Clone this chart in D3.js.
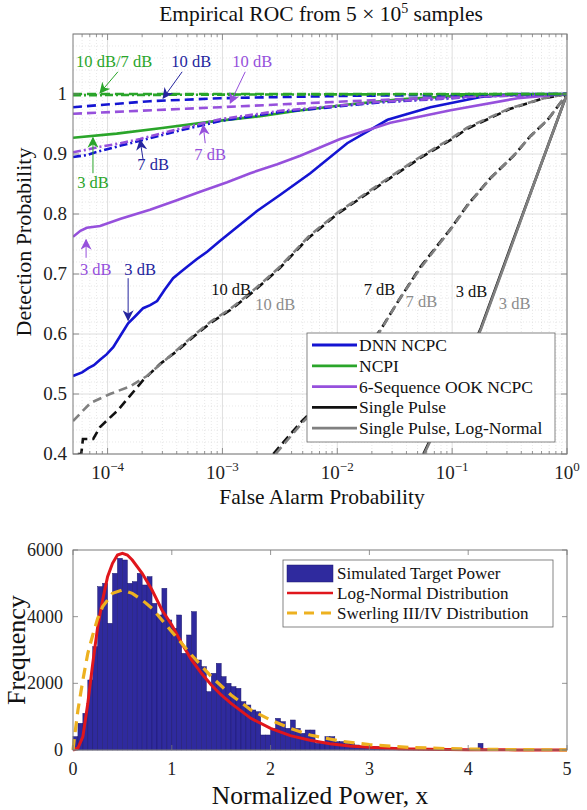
<!DOCTYPE html>
<html>
<head>
<meta charset="utf-8">
<script src="https://cdn.jsdelivr.net/npm/d3@7"></script>
<style>
body { margin: 0; background: #fff; }
svg, svg text { font-family: "Liberation Serif", "Times New Roman", serif; }
</style>
</head>
<body>
<div id="app"></div>
<script>
// ---------- ROC data: [false alarm probability, detection probability] ----------
const dnn3 = [[5e-5,0.530],[6e-5,0.536],[6.8e-5,0.543],[7.6e-5,0.548],[8.6e-5,0.557],[9.8e-5,0.566],[1.12e-4,0.578],[1.3e-4,0.598],[1.51e-4,0.618],[1.75e-4,0.630],[2.04e-4,0.643],[2.35e-4,0.648],[2.7e-4,0.655],[3.15e-4,0.674],[3.72e-4,0.693],[4.3e-4,0.703],[4.93e-4,0.712],[6e-4,0.725],[7.36e-4,0.737],[9.5e-4,0.755],[1.24e-3,0.773],[2e-3,0.805],[3.19e-3,0.832],[5.82e-3,0.868],[1.22e-2,0.918],[2.74e-2,0.957],[6.47e-2,0.978],[0.177,0.995],[0.343,1.0],[1,1]];
const dnn7 = [[5e-5,0.895],[6.5e-5,0.898],[8.6e-5,0.905],[1.3e-4,0.914],[1.92e-4,0.922],[4e-4,0.938],[9.57e-4,0.955],[3.19e-3,0.970],[2.38e-2,0.986],[0.177,0.996],[1,1]];
const dnn10 = [[5e-5,0.978],[2.34e-4,0.988],[9.57e-4,0.993],[1.3e-2,0.997],[1,1]];
const ncpi3 = [[5e-5,0.927],[1.2e-4,0.934],[2.87e-4,0.943],[8e-4,0.954],[2.13e-3,0.963],[4.5e-3,0.972],[1.3e-2,0.983],[3.5e-2,0.991],[9.7e-2,0.996],[0.3,0.999],[1,1]];
const ncpi7 = [[5e-5,0.998],[1e-3,0.999],[1,1]];
const ncpi10 = [[5e-5,1.0],[1,1]];
const ook3 = [[5e-5,0.762],[5.8e-5,0.772],[6.6e-5,0.777],[8.6e-5,0.780],[1.3e-4,0.792],[2.34e-4,0.807],[3.9e-4,0.822],[6.4e-4,0.837],[1.1e-3,0.853],[1.75e-3,0.868],[3e-3,0.883],[4.76e-3,0.897],[1.06e-2,0.925],[2.9e-2,0.952],[9.7e-2,0.973],[0.372,0.993],[1,1]];
const ook7 = [[5e-5,0.903],[6.5e-5,0.907],[8.6e-5,0.912],[1.3e-4,0.918],[1.92e-4,0.925],[4e-4,0.941],[9.57e-4,0.958],[3.19e-3,0.972],[2.38e-2,0.987],[0.177,0.996],[1,1]];
const ook10 = [[5e-5,0.967],[9.57e-4,0.978],[1.3e-2,0.988],[9.7e-2,0.995],[1,1]];
const sp3 = [[5.62e-2,0.40],[0.1,0.50],[0.178,0.61],[0.316,0.74],[0.562,0.87],[1,1]];
const sp7 = [[2.77e-3,0.40],[4.76e-3,0.452],[7.57e-3,0.49],[1.3e-2,0.54],[2.38e-2,0.607],[3.4e-2,0.655],[5.3e-2,0.712],[9.68e-2,0.775],[0.136,0.815],[0.216,0.86],[0.343,0.897],[0.482,0.93],[0.679,0.957],[1,1]];
const sp10 = [[5.5e-5,0.40],[5.9e-5,0.40],[6.1e-5,0.425],[7.5e-5,0.425],[8.6e-5,0.445],[1.23e-4,0.473],[2.04e-4,0.523],[2.86e-4,0.55],[4.11e-4,0.573],[5.56e-4,0.595],[7.82e-4,0.618],[1.17e-3,0.64],[1.64e-3,0.662],[2.26e-3,0.685],[3.16e-3,0.71],[5.6e-3,0.76],[1e-2,0.80],[1.7e-2,0.83],[3.16e-2,0.865],[5.25e-2,0.893],[0.1,0.925],[0.135,0.942],[0.316,0.975],[0.63,0.993],[1,1]];
const spln3 = [[5.7e-2,0.40],[0.1,0.498],[0.178,0.608],[0.316,0.738],[0.562,0.87],[1,1]];
const spln7 = [[2.9e-3,0.40],[5e-3,0.453],[7.8e-3,0.49],[1.33e-2,0.54],[2.4e-2,0.607],[3.4e-2,0.655],[5.3e-2,0.71],[9.68e-2,0.774],[0.136,0.814],[0.216,0.86],[0.343,0.897],[0.482,0.93],[0.679,0.957],[1,1]];
const spln10 = [[5e-5,0.455],[7.1e-5,0.485],[1.05e-4,0.50],[1.58e-4,0.513],[2.2e-4,0.53],[2.9e-4,0.55],[4.11e-4,0.575],[5.56e-4,0.597],[7.82e-4,0.62],[1.17e-3,0.642],[1.64e-3,0.664],[2.26e-3,0.687],[3.16e-3,0.712],[5.6e-3,0.762],[1e-2,0.802],[1.7e-2,0.832],[3.16e-2,0.867],[5.25e-2,0.895],[0.1,0.927],[0.135,0.944],[0.316,0.976],[0.63,0.993],[1,1]];

const rocXTicks = [1e-4, 1e-3, 1e-2, 1e-1, 1];
const rocXExp = ["\u22124", "\u22123", "\u22122", "\u22121", "0"];
const rocYTicks = [0.4, 0.5, 0.6, 0.7, 0.8, 0.9, 1];
const rocYLabels = ["0.4", "0.5", "0.6", "0.7", "0.8", "0.9", "1"];
const legendNames = ["DNN NCPC", "NCPI", "6-Sequence OOK NCPC", "Single Pulse", "Single Pulse, Log-Normal"];

// ---------- histogram data ----------
const binWidth = 0.05;
const histCounts = [400,800,1100,2100,3100,4900,5000,3800,5300,5750,
  5700,5000,5050,5300,4950,5200,4400,4050,4850,3900,
  3650,4050,2900,3450,4150,2700,2500,1750,2300,2600,
  2200,2000,1900,1850,1450,1350,1200,1150,450,450,
  650,950,850,650,900,650,500,600,600,200,
  200,400,400,250,250,200,200,150,100,100,
  50,100,90,80,80,70,60,60,50,50,
  40,40,35,30,30,25,25,20,20,20,
  20,15,200,15,12,10,10,10,8,8,
  6,6,5,5,4,4,3,3,2,2];
const logNormX = [0,0.05,0.1,0.15,0.2,0.25,0.3,0.35,0.4,0.45,0.5,0.55,0.6,0.7,0.8,0.9,1.0,1.1,1.2,1.3,1.4,1.5,1.6,1.8,2.0,2.2,2.4,2.6,2.8,3.0,3.3,3.6,4.0,4.5,5.0];
const logNormY = [0,60,400,1400,2600,3700,4500,5200,5600,5850,5900,5850,5700,5300,4800,4200,3750,3200,2700,2300,1950,1650,1400,950,650,430,290,190,120,80,40,20,8,3,1];
const swerlingX = [0,0.02,0.05,0.1,0.15,0.2,0.25,0.3,0.4,0.5,0.6,0.7,0.8,0.9,1.0,1.2,1.4,1.6,1.8,2.0,2.2,2.4,2.7,3.0,3.4,3.8,4.2,4.6,5.0];
const swerlingY = [0,500,1200,2100,2900,3450,3950,4300,4700,4800,4700,4500,4250,3900,3550,2850,2200,1650,1200,900,650,450,270,160,80,40,20,10,5];
const histXTicks = [0, 1, 2, 3, 4, 5];
const histYTicks = [0, 2000, 4000, 6000];

// ---------- colours ----------
const cBlue = "#1414d2", cGreen = "#2aa52a", cPurple = "#9650dc", cBlack = "#111111", cGray = "#808080";
const cNavy = "#25259e";

const W = 587, H = 810;
const svg = d3.select("#app").append("svg").attr("width", W).attr("height", H);
const defs = svg.append("defs");

// ================= ROC panel =================
const roc = {left: 73, right: 567, top: 34, bottom: 454};
const xRoc = d3.scaleLog().domain([5e-5, 1]).range([roc.left, roc.right]);
const yRoc = d3.scaleLinear().domain([0.4, 1.1]).range([roc.bottom, roc.top]);

svg.append("rect").attr("x", roc.left).attr("y", roc.top)
  .attr("width", roc.right - roc.left).attr("height", roc.bottom - roc.top).attr("fill", "#fff");

// grid
const minorX = [];
for (let e = -5; e < 0; e++) {
  for (let m = 2; m <= 9; m++) {
    const v = m * Math.pow(10, e);
    if (v > 5.01e-5 && v < 1) minorX.push(v);
  }
}
const minorY = [];
for (let k = 21; k < 55; k++) if (k % 5 !== 0) minorY.push(k / 50);

const grid = svg.append("g");
grid.selectAll(".mx").data(minorX).enter().append("line")
  .attr("x1", d => xRoc(d)).attr("x2", d => xRoc(d)).attr("y1", roc.top).attr("y2", roc.bottom)
  .attr("stroke", "#d8d8d8").attr("stroke-width", 0.6).attr("stroke-dasharray", "1,2");
grid.selectAll(".my").data(minorY).enter().append("line")
  .attr("y1", d => yRoc(d)).attr("y2", d => yRoc(d)).attr("x1", roc.left).attr("x2", roc.right)
  .attr("stroke", "#d8d8d8").attr("stroke-width", 0.6).attr("stroke-dasharray", "1,2");
grid.selectAll(".gx").data(rocXTicks).enter().append("line")
  .attr("x1", d => xRoc(d)).attr("x2", d => xRoc(d)).attr("y1", roc.top).attr("y2", roc.bottom)
  .attr("stroke", "#d6d6d6").attr("stroke-width", 0.8);
grid.selectAll(".gy").data(rocYTicks.concat([1.1])).enter().append("line")
  .attr("y1", d => yRoc(d)).attr("y2", d => yRoc(d)).attr("x1", roc.left).attr("x2", roc.right)
  .attr("stroke", "#d6d6d6").attr("stroke-width", 0.8);

// curves
defs.append("clipPath").attr("id", "rocClip").append("rect")
  .attr("x", roc.left).attr("y", roc.top).attr("width", roc.right - roc.left).attr("height", roc.bottom - roc.top);

const dashed = "9,5", dashDot = "8,3,2,3";
const rocSeries = [
  {data: sp10, color: cBlack, dash: dashed},
  {data: spln10, color: cGray, dash: dashed},
  {data: sp7, color: cBlack, dash: dashed},
  {data: spln7, color: cGray, dash: dashed},
  {data: sp3, color: cBlack, dash: null},
  {data: spln3, color: cGray, dash: null},
  {data: dnn3, color: cBlue, dash: null},
  {data: ook3, color: cPurple, dash: null},
  {data: ncpi3, color: cGreen, dash: null},
  {data: dnn7, color: cBlue, dash: dashDot},
  {data: ook7, color: cPurple, dash: dashDot},
  {data: ook10, color: cPurple, dash: dashed},
  {data: dnn10, color: cBlue, dash: dashed},
  {data: ncpi7, color: cGreen, dash: dashDot},
  {data: ncpi10, color: cGreen, dash: dashed}
];
const rocLine = d3.line().x(d => xRoc(d[0])).y(d => yRoc(d[1]));
const curves = svg.append("g").attr("clip-path", "url(#rocClip)");
curves.selectAll(".roc").data(rocSeries).enter().append("path")
  .attr("d", d => rocLine(d.data))
  .attr("fill", "none")
  .attr("stroke", d => d.color)
  .attr("stroke-width", 2.6)
  .attr("stroke-dasharray", d => d.dash);

// frame + ticks
const axisCol = "#7a7a7a";
const ticks = svg.append("g").attr("stroke", axisCol).attr("stroke-width", 0.8);
rocXTicks.forEach(v => {
  ticks.append("line").attr("x1", xRoc(v)).attr("x2", xRoc(v)).attr("y1", roc.bottom).attr("y2", roc.bottom - 6);
  ticks.append("line").attr("x1", xRoc(v)).attr("x2", xRoc(v)).attr("y1", roc.top).attr("y2", roc.top + 6);
});
minorX.forEach(v => {
  ticks.append("line").attr("x1", xRoc(v)).attr("x2", xRoc(v)).attr("y1", roc.bottom).attr("y2", roc.bottom - 3);
  ticks.append("line").attr("x1", xRoc(v)).attr("x2", xRoc(v)).attr("y1", roc.top).attr("y2", roc.top + 3);
});
rocYTicks.forEach(v => {
  ticks.append("line").attr("y1", yRoc(v)).attr("y2", yRoc(v)).attr("x1", roc.left).attr("x2", roc.left + 6);
  ticks.append("line").attr("y1", yRoc(v)).attr("y2", yRoc(v)).attr("x1", roc.right).attr("x2", roc.right - 6);
});
svg.append("rect").attr("x", roc.left).attr("y", roc.top)
  .attr("width", roc.right - roc.left).attr("height", roc.bottom - roc.top)
  .attr("fill", "none").attr("stroke", axisCol).attr("stroke-width", 1);

// tick labels
rocXTicks.forEach((v, i) => {
  const t = svg.append("text").attr("x", xRoc(v)).attr("y", 479)
    .attr("text-anchor", "middle").attr("font-size", 19).attr("fill", "#222");
  t.append("tspan").text("10");
  t.append("tspan").attr("dy", -8).attr("font-size", 13).text(rocXExp[i]);
});
svg.selectAll(".ylab").data(rocYTicks).enter().append("text")
  .attr("x", 67).attr("y", d => yRoc(d) + 6)
  .attr("text-anchor", "end").attr("font-size", 19).attr("fill", "#222")
  .text((d, i) => rocYLabels[i]);

// title and axis labels
const title = svg.append("text").attr("x", 321).attr("y", 21)
  .attr("text-anchor", "middle").attr("font-size", 21.5).attr("fill", "#111");
title.append("tspan").text("Empirical ROC from 5 \u00d7 10");
title.append("tspan").attr("dy", -8).attr("font-size", 14).text("5");
title.append("tspan").attr("dy", 8).text(" samples");

svg.append("text").attr("x", 322).attr("y", 504).attr("text-anchor", "middle")
  .attr("font-size", 21.5).attr("fill", "#111").text("False Alarm Probability");
svg.append("text").attr("transform", "translate(31,242) rotate(-90)").attr("text-anchor", "middle")
  .attr("font-size", 22).attr("fill", "#111").text("Detection Probability");

// annotations
const rocLabels = [
  {text: "10 dB/7 dB", pfa: 1.14e-4, pd: 1.045, color: cGreen},
  {text: "10 dB", pfa: 5.35e-4, pd: 1.045, color: cNavy},
  {text: "10 dB", pfa: 1.82e-3, pd: 1.045, color: cPurple},
  {text: "3 dB", pfa: 7.46e-5, pd: 0.843, color: cGreen},
  {text: "7 dB", pfa: 2.49e-4, pd: 0.873, color: cNavy},
  {text: "7 dB", pfa: 7.82e-4, pd: 0.89, color: cPurple},
  {text: "3 dB", pfa: 7.9e-5, pd: 0.698, color: cPurple},
  {text: "3 dB", pfa: 1.92e-4, pd: 0.698, color: cNavy},
  {text: "10 dB", pfa: 1.19e-3, pd: 0.665, color: cBlack},
  {text: "10 dB", pfa: 2.88e-3, pd: 0.64, color: "#8c8c8c"},
  {text: "7 dB", pfa: 2.33e-2, pd: 0.665, color: cBlack},
  {text: "7 dB", pfa: 5.4e-2, pd: 0.645, color: "#8c8c8c"},
  {text: "3 dB", pfa: 0.1476, pd: 0.662, color: cBlack},
  {text: "3 dB", pfa: 0.35, pd: 0.642, color: "#8c8c8c"}
];
const rocArrows = [
  {from: [1.23e-4, 1.037], to: [8.6e-5, 1.002], color: cGreen},
  {from: [4.46e-4, 1.037], to: [3.05e-4, 0.993], color: cNavy},
  {from: [1.58e-3, 1.037], to: [1.17e-3, 0.985], color: cPurple},
  {from: [7.46e-5, 0.868], to: [7.46e-5, 0.927], color: cGreen},
  {from: [2.04e-4, 0.89], to: [1.92e-4, 0.923], color: cNavy},
  {from: [7.08e-4, 0.918], to: [6.8e-4, 0.948], color: cPurple},
  {from: [6.5e-5, 0.727], to: [6.5e-5, 0.757], color: cPurple},
  {from: [1.51e-4, 0.693], to: [1.51e-4, 0.623], color: cNavy}
];
const markerIds = {};
[cGreen, cNavy, cPurple].forEach((c, i) => {
  const id = "arr" + i;
  markerIds[c] = id;
  defs.append("marker").attr("id", id).attr("viewBox", "0 0 10 10")
    .attr("refX", 9).attr("refY", 5).attr("markerWidth", 11).attr("markerHeight", 11)
    .attr("markerUnits", "userSpaceOnUse").attr("orient", "auto")
    .append("path").attr("d", "M0,0 L10,5 L0,10 L3,5 Z").attr("fill", c);
});
svg.selectAll(".arrow").data(rocArrows).enter().append("line")
  .attr("x1", d => xRoc(d.from[0])).attr("y1", d => yRoc(d.from[1]))
  .attr("x2", d => xRoc(d.to[0])).attr("y2", d => yRoc(d.to[1]))
  .attr("stroke", d => d.color).attr("stroke-width", 1)
  .attr("marker-end", d => "url(#" + markerIds[d.color] + ")");
svg.selectAll(".ann").data(rocLabels).enter().append("text")
  .attr("x", d => xRoc(d.pfa)).attr("y", d => yRoc(d.pd))
  .attr("text-anchor", "middle").attr("font-size", 16.5)
  .attr("fill", d => d.color).text(d => d.text);

// legend
const legCols = [cBlue, cGreen, cPurple, cBlack, cGray];
const leg = svg.append("g");
leg.append("rect").attr("x", 307).attr("y", 333).attr("width", 248).attr("height", 109)
  .attr("fill", "#fff").attr("stroke", "#666").attr("stroke-width", 0.8);
legendNames.forEach((name, i) => {
  const y = 345 + i * 20.8;
  leg.append("line").attr("x1", 312).attr("x2", 357).attr("y1", y).attr("y2", y)
    .attr("stroke", legCols[i]).attr("stroke-width", 2.8);
  leg.append("text").attr("x", 359).attr("y", y + 6).attr("font-size", 17.5)
    .attr("fill", "#111").text(name);
});

// ================= histogram panel =================
const hp = {left: 73, right: 567, top: 550, bottom: 750};
const xH = d3.scaleLinear().domain([0, 5]).range([hp.left, hp.right]);
const yH = d3.scaleLinear().domain([0, 6000]).range([hp.bottom, hp.top]);

svg.append("g").selectAll(".bar").data(histCounts).enter().append("rect")
  .attr("x", (d, i) => xH(i * binWidth))
  .attr("width", xH(binWidth) - xH(0))
  .attr("y", d => yH(d))
  .attr("height", d => yH(0) - yH(d))
  .attr("fill", "#2f2a9e").attr("stroke", "#1c186c").attr("stroke-width", 0.5);

const swLine = d3.line().x(d => xH(d[0])).y(d => yH(d[1]));
svg.append("path").attr("d", swLine(logNormX.map((x, i) => [x, logNormY[i]])))
  .attr("fill", "none").attr("stroke", "#e0161c").attr("stroke-width", 3);
svg.append("path").attr("d", swLine(swerlingX.map((x, i) => [x, swerlingY[i]])))
  .attr("fill", "none").attr("stroke", "#edb120").attr("stroke-width", 3.2)
  .attr("stroke-dasharray", "11,7");

const hTicks = svg.append("g").attr("stroke", axisCol).attr("stroke-width", 0.8);
histXTicks.forEach(v => {
  hTicks.append("line").attr("x1", xH(v)).attr("x2", xH(v)).attr("y1", hp.bottom).attr("y2", hp.bottom - 5);
  hTicks.append("line").attr("x1", xH(v)).attr("x2", xH(v)).attr("y1", hp.top).attr("y2", hp.top + 5);
});
histYTicks.forEach(v => {
  hTicks.append("line").attr("y1", yH(v)).attr("y2", yH(v)).attr("x1", hp.left).attr("x2", hp.left + 5);
  hTicks.append("line").attr("y1", yH(v)).attr("y2", yH(v)).attr("x1", hp.right).attr("x2", hp.right - 5);
});
svg.append("rect").attr("x", hp.left).attr("y", hp.top)
  .attr("width", hp.right - hp.left).attr("height", hp.bottom - hp.top)
  .attr("fill", "none").attr("stroke", axisCol).attr("stroke-width", 1);

svg.selectAll(".hx").data(histXTicks).enter().append("text")
  .attr("x", d => xH(d)).attr("y", 775).attr("text-anchor", "middle")
  .attr("font-size", 18).attr("fill", "#222").text(d => d);
svg.selectAll(".hy").data(histYTicks).enter().append("text")
  .attr("x", 63).attr("y", d => yH(d) + 6).attr("text-anchor", "end")
  .attr("font-size", 18).attr("fill", "#222").text(d => d);

svg.append("text").attr("x", 320).attr("y", 804).attr("text-anchor", "middle")
  .attr("font-size", 25.5).attr("fill", "#111").text("Normalized Power, x");
svg.append("text").attr("transform", "translate(25,650) rotate(-90)").attr("text-anchor", "middle")
  .attr("font-size", 26).attr("fill", "#111").text("Frequency");

// histogram legend
const hl = svg.append("g");
hl.append("rect").attr("x", 283).attr("y", 560).attr("width", 270).attr("height", 67)
  .attr("fill", "#fff").attr("stroke", "#666").attr("stroke-width", 0.8);
hl.append("rect").attr("x", 287).attr("y", 565).attr("width", 46).attr("height", 17)
  .attr("fill", "#2f2a9e").attr("stroke", "#1c186c").attr("stroke-width", 0.5);
hl.append("line").attr("x1", 287).attr("x2", 333).attr("y1", 593).attr("y2", 593)
  .attr("stroke", "#e0161c").attr("stroke-width", 2.5);
hl.append("line").attr("x1", 287).attr("x2", 333).attr("y1", 613).attr("y2", 613)
  .attr("stroke", "#edb120").attr("stroke-width", 2.8).attr("stroke-dasharray", "10,7");
["Simulated Target Power", "Log-Normal Distribution", "Swerling III/IV Distribution"].forEach((t, i) => {
  hl.append("text").attr("x", 337).attr("y", 579 + i * 20).attr("font-size", 17)
    .attr("fill", "#111").text(t);
});
</script>
</body>
</html>
